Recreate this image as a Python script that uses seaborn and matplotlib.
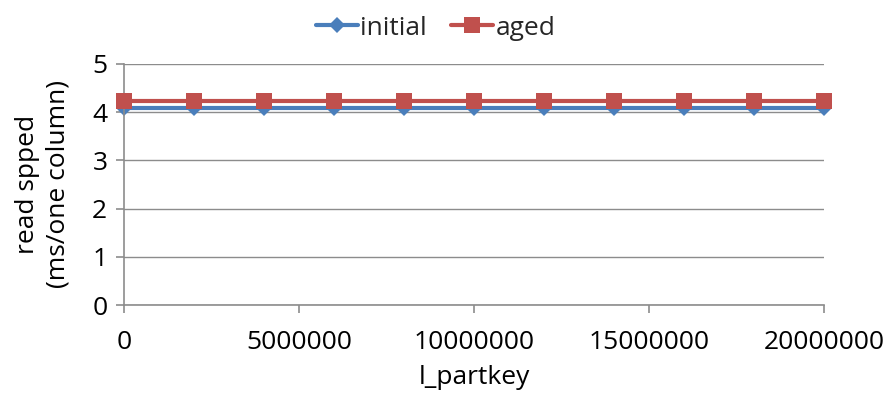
import matplotlib
matplotlib.use("Agg")
import matplotlib.pyplot as plt
import seaborn as sns
import pandas as pd
from matplotlib.ticker import MultipleLocator, FuncFormatter

# l_partkey sample positions and measured read speed (ms per column)
partkey = [0, 2000000, 4000000, 6000000, 8000000, 10000000,
           12000000, 14000000, 16000000, 18000000, 20000000]
initial = [4.09, 4.09, 4.09, 4.09, 4.09, 4.09, 4.09, 4.09, 4.09, 4.09, 4.09]
aged = [4.22, 4.22, 4.22, 4.22, 4.22, 4.22, 4.22, 4.22, 4.22, 4.22, 4.22]
series_names = ["initial", "aged"]

df = pd.DataFrame({
    "l_partkey": partkey * 2,
    "speed": initial + aged,
    "state": [series_names[0]] * len(partkey) + [series_names[1]] * len(partkey),
})

sns.set_theme(style="white")
plt.rcParams["font.family"] = ["Open Sans", "DejaVu Sans"]

fig = plt.figure(figsize=(8.89, 4.01), dpi=100)
ax = fig.add_axes([0.1395, 0.2394, 0.7875, 0.6016])

palette = {"initial": "#4A7EBB", "aged": "#C0504D"}
markers = {"initial": "D", "aged": "s"}
sizes = {"initial": 8, "aged": 11}

sns.lineplot(data=df, x="l_partkey", y="speed", hue="state", style="state",
             palette=palette, markers=markers, dashes=False, ax=ax,
             linewidth=3, markersize=10, markeredgewidth=0, legend=False)
for line, name in zip(ax.lines, series_names):
    line.set_markersize(sizes[name])
    line.set_label(name)
    line.set_clip_on(False)
    line.set_zorder(3 if name == "aged" else 2)

ax.set_xlim(0, 20000000)
ax.set_ylim(0, 5)
ax.xaxis.set_major_locator(MultipleLocator(5000000))
ax.yaxis.set_major_locator(MultipleLocator(1))
ax.xaxis.set_major_formatter(FuncFormatter(lambda v, p: f"{int(v)}"))
ax.yaxis.set_major_formatter(FuncFormatter(lambda v, p: f"{int(v)}"))

ax.grid(axis="y", color="#8C8C8C", linewidth=1)
ax.grid(axis="x", visible=False)
for side in ["top", "right"]:
    ax.spines[side].set_visible(False)
for side in ["left", "bottom"]:
    ax.spines[side].set_color("#8C8C8C")
    ax.spines[side].set_linewidth(1.2)

fs = 19
ax.tick_params(axis="both", which="major", direction="out", length=6,
               width=1.2, color="#8C8C8C", labelsize=fs, labelcolor="#000000",
               bottom=True, left=True)
ax.tick_params(axis="x", pad=12)
ax.tick_params(axis="y", pad=6)

ax.set_xlabel("l_partkey", fontsize=fs, color="#000000", labelpad=7)
ax.set_ylabel("read spped\n(ms/one column)", fontsize=fs, color="#000000",
              labelpad=16, linespacing=1.25)

leg = fig.legend(handles=ax.lines[:2], labels=series_names, loc="upper center",
                 bbox_to_anchor=(0.49, 1.02), ncol=2, frameon=False,
                 fontsize=fs, handlelength=1.6, handletextpad=0.1,
                 columnspacing=0.9)

fig.savefig("out.png", dpi=100)
